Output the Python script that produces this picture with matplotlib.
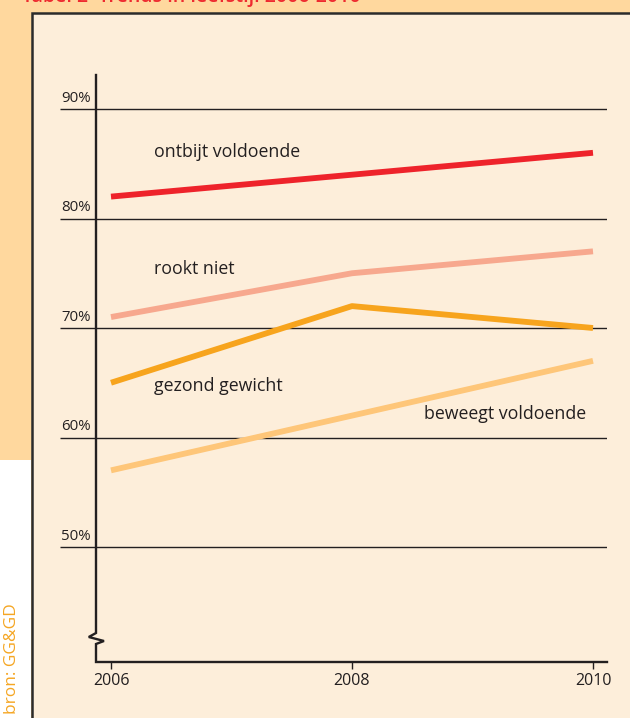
import matplotlib
matplotlib.use("Agg")
import matplotlib.pyplot as plt
from matplotlib.patches import Rectangle

# Data
years = [2006, 2008, 2010]
series_names = ["ontbijt voldoende", "rookt niet", "gezond gewicht", "beweegt voldoende"]
ontbijt = [82, 84, 86]
rookt_niet = [71, 75, 77]
gezond_gewicht = [65, 72, 70]
beweegt = [57, 62, 67]
y_ticks = [50, 60, 70, 80, 90]
y_tick_labels = ["50%", "60%", "70%", "80%", "90%"]
x_tick_labels = ["2006", "2008", "2010"]

W, H = 630, 718
fig = plt.figure(figsize=(W / 100, H / 100), dpi=100)
fig.patch.set_facecolor("#FFD89E")

FONT = ["Open Sans", "DejaVu Sans"]
DARK = "#231f20"

# white lower-left margin and the light chart panel
fig.patches.append(Rectangle((0, 0), 31 / W, (H - 460) / H, transform=fig.transFigure,
                             facecolor="white", edgecolor="none", zorder=0))
fig.patches.append(Rectangle((32 / W, -0.01), 1.0, (H - 13) / H + 0.01,
                             transform=fig.transFigure, facecolor="#FDEEDA",
                             edgecolor="#2b2b2b", linewidth=1.8, zorder=1))

# title, mostly above the page edge
fig.text(22 / W, 1 - 2 / H, "Tabel 2  Trends in leefstijl 2006-2010", color="#EE2A2F",
         fontsize=14, fontweight="semibold", family=FONT, va="baseline", ha="left")

# source credit, rotated along the left margin
fig.text(12 / W, 1 - 603 / H, "bron: GG&GD", rotation=90, color="#F5A623",
         fontsize=12.5, family=FONT, ha="center", va="top")

# plotting area
left_px, right_px, top_px, bot_px = 60, 607, 75, 662
ax = fig.add_axes([left_px / W, 1 - bot_px / H, (right_px - left_px) / W, (bot_px - top_px) / H])
ax.set_facecolor("none")
ax.set_zorder(2)


def px_to_year(px):
    return 2006 + (px - 111) / 120.5


def px_to_val(py):
    return 90 - (py - 109) / 10.95


x0, x1 = px_to_year(left_px), px_to_year(right_px)
y0, y1 = px_to_val(bot_px), px_to_val(top_px)
ax.set_xlim(x0, x1)
ax.set_ylim(y0, y1)
for s in ax.spines.values():
    s.set_visible(False)

# horizontal reference lines with % labels
for v, lab in zip(y_ticks, y_tick_labels):
    ax.plot([x0, x1], [v, v], color=DARK, lw=1.0, zorder=2, solid_capstyle="butt")
    ax.text(px_to_year(61), v + 0.3, lab, fontsize=10.8, family=FONT, color=DARK,
            ha="left", va="bottom")

# vertical axis with a break zigzag near the bottom
xa = px_to_year(96)
dz = 0.06
yb = px_to_val(633)
zig_x = [xa, xa, xa - dz, xa + dz * 1.1, xa, xa, px_to_year(right_px)]
zig_y = [y1, yb, px_to_val(637), px_to_val(641), px_to_val(644), y0, y0]
ax.plot(zig_x, zig_y, color=DARK, lw=1.7, zorder=3, clip_on=False,
        solid_joinstyle="miter")

# x ticks
ax.set_xticks(years)
ax.set_xticklabels(x_tick_labels, fontsize=11.5, family=FONT, color=DARK)
ax.tick_params(axis="x", direction="out", length=5, width=1.0, color=DARK, pad=3)
ax.set_yticks([])

# series lines
colors = ["#EE232B", "#F7A88E", "#F7A41D", "#FEC679"]
for vals, c in zip([ontbijt, rookt_niet, gezond_gewicht, beweegt], colors):
    ax.plot(years, vals, color=c, lw=4.2, solid_capstyle="butt", zorder=4)

# series labels
label_pos = [(154, 152), (154, 269), (154, 386), (424, 414)]
for name, (px, py) in zip(series_names, label_pos):
    ax.text(px_to_year(px), px_to_val(py), name, fontsize=12.8, family=FONT,
            color=DARK, ha="left", va="center")

fig.savefig("out.png", dpi=100, facecolor=fig.get_facecolor())
